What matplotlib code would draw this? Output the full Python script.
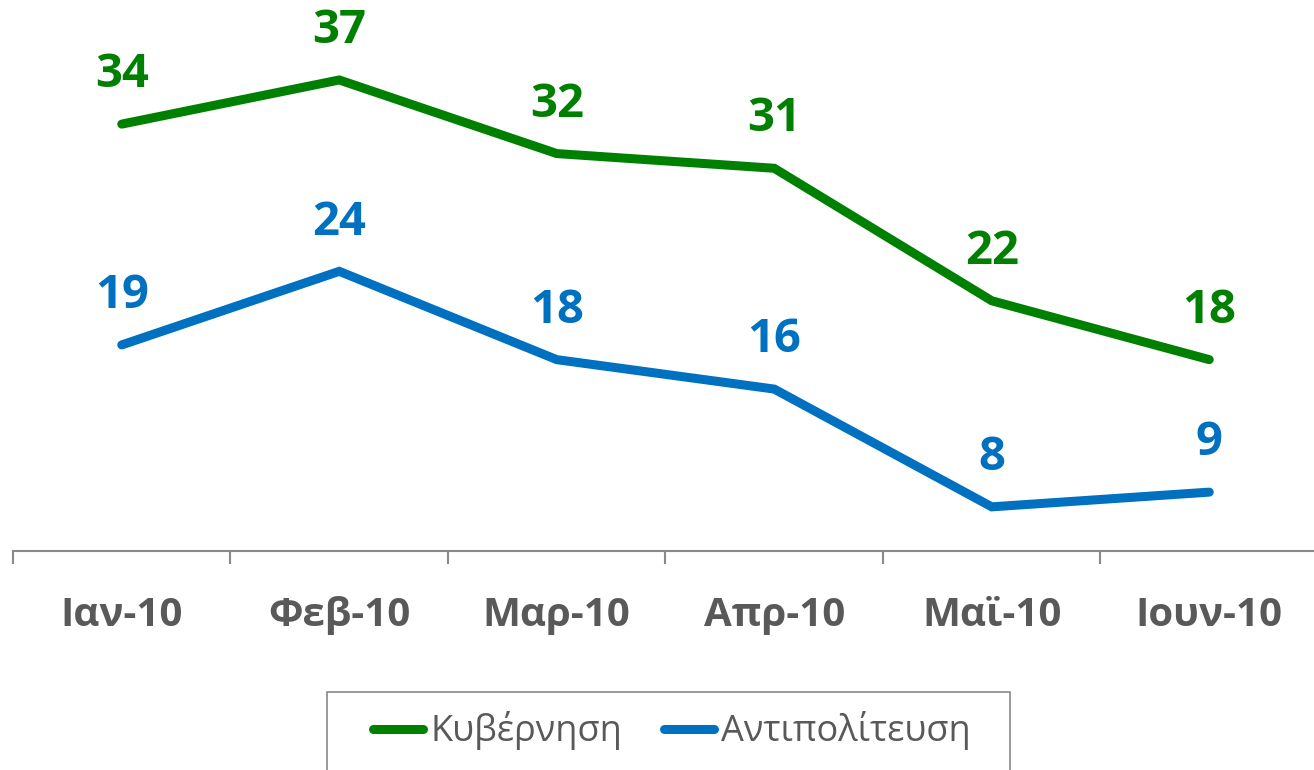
import matplotlib.pyplot as plt
from matplotlib.patches import Rectangle
import numpy as np

plt.rcParams['font.family'] = ['Open Sans', 'DejaVu Sans']

# Données
mois = ['Ιαν-10', 'Φεβ-10', 'Μαρ-10', 'Απρ-10', 'Μαϊ-10', 'Ιουν-10']
kyvernisi = [34, 37, 32, 31, 22, 18]
antipoliteusi = [19, 24, 18, 16, 8, 9]

vert = '#008000'
bleu = '#0070C0'
gris = '#595959'

W, H = 1314, 770
fig = plt.figure(figsize=(W / 100, H / 100), dpi=100)
ax = fig.add_axes([13 / W, 1 - 551 / H, 1305 / W, 551 / H])

x = np.arange(len(mois))
ax.plot(x, kyvernisi, color=vert, lw=6.5, solid_capstyle='round',
        solid_joinstyle='miter', label='Κυβέρνηση')
ax.plot(x, antipoliteusi, color=bleu, lw=6.5, solid_capstyle='round',
        solid_joinstyle='miter', label='Αντιπολίτευση')

# Étiquettes de valeurs
for serie, couleur in [(kyvernisi, vert), (antipoliteusi, bleu)]:
    for xi, v in zip(x, serie):
        ax.annotate(str(v), (xi, v), xytext=(0, 35.5), textcoords='offset points',
                    ha='center', va='center', fontsize=34, fontweight='bold',
                    color=couleur)

ax.set_xlim(-0.5, len(mois) - 0.5)
ax.set_ylim(5, 5 + 551 / 14.72)

for s in ['top', 'left', 'right']:
    ax.spines[s].set_visible(False)
ax.spines['bottom'].set_color('#898989')
ax.spines['bottom'].set_linewidth(1.5)

ax.set_yticks([])
ax.set_xticks(x)
ax.set_xticklabels(mois, fontsize=29, fontweight='bold', color=gris)
ax.tick_params(axis='x', which='major', length=0, pad=32.5)
ax.set_xticks(np.arange(-0.5, len(mois)), minor=True)
ax.tick_params(axis='x', which='minor', length=9, width=1.5, color='#898989')

# Légende sans cadre + cadre dessiné à part (il dépasse en bas)
leg = fig.legend(loc='center', bbox_to_anchor=(672 / W, 1 - 731 / H),
                 ncol=2, frameon=False, fontsize=26, borderaxespad=0,
                 handlelength=1.38, handletextpad=0.2, columnspacing=1.16,
                 borderpad=0)
for t in leg.get_texts():
    t.set_color(gris)

cadre = Rectangle((327 / W, -0.05), (1010 - 327) / W, 0.05 + 1 - 692 / H,
                  transform=fig.transFigure, fill=False,
                  edgecolor='#898989', linewidth=1.2)
fig.patches.append(cadre)

fig.savefig('out.png', dpi=100)
